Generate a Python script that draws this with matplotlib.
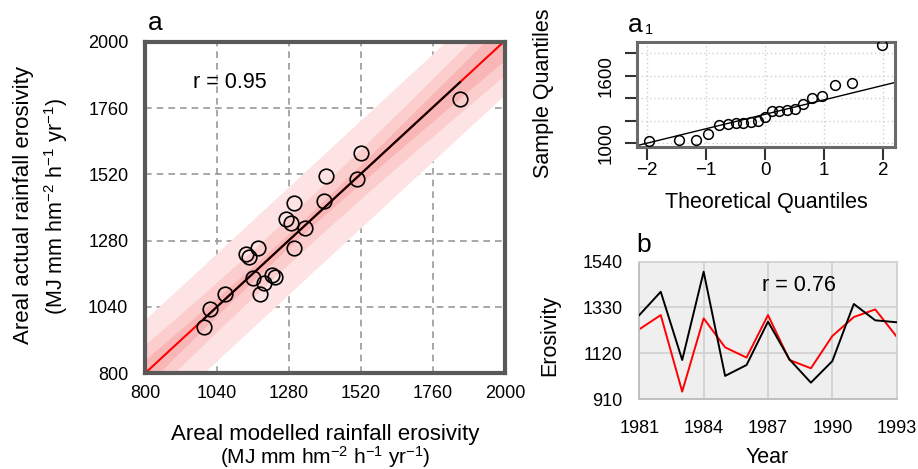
import numpy as np
import matplotlib
matplotlib.use('Agg')
import matplotlib.pyplot as plt

plt.rcParams['font.family'] = ['Liberation Sans', 'DejaVu Sans']
plt.rcParams['mathtext.default'] = 'regular'

# ---------------- data ----------------
# panel a: areal modelled (x) vs actual (y) erosivity
modelled = [1850, 1519, 1404, 1507, 1398, 1296, 1270, 1285, 1333, 1296, 1176,
            1138, 1145, 1159, 1223, 1234, 1196, 1182, 1067, 1015, 995]
actual = [1795, 1599, 1514, 1505, 1424, 1418, 1357, 1343, 1324, 1253, 1253,
          1230, 1222, 1145, 1157, 1149, 1127, 1085, 1085, 1033, 968]
r_a = 0.95
fit_slope = 1.005
fit_intercept = -5.0
pred_halfwidth = 195          # prediction band half width
mid_halfwidth = (85, 125)     # (centre, ends)
conf_halfwidth = (25, 70)     # (centre, ends)
a_ticks = [800, 1040, 1280, 1520, 1760, 2000]

# panel a1: normal QQ plot
theoretical_q = [-1.98, -1.47, -1.18, -0.97, -0.79, -0.64, -0.50, -0.37, -0.24, -0.12, 0.0,
                 0.12, 0.24, 0.37, 0.50, 0.64, 0.79, 0.97, 1.18, 1.47, 1.98]
sample_q = [1023, 1029, 1032, 1083, 1165, 1172, 1178, 1185, 1190, 1200, 1235,
            1285, 1290, 1298, 1302, 1345, 1400, 1418, 1518, 1533, 1874]
qq_xticks = [-2, -1, 0, 1, 2]
qq_yticks = [1000, 1200, 1400, 1600, 1800]
qq_ylabels = ['1000', '', '', '1600', '']

# panel b: annual erosivity time series
years = list(range(1981, 1994))
actual_series = [1295, 1402, 1089, 1494, 1016, 1066, 1265, 1092, 985, 1084, 1346, 1271, 1262]
modelled_series = [1230, 1295, 944, 1280, 1147, 1100, 1295, 1089, 1051, 1199, 1286, 1321, 1196]
r_b = 0.76
b_yticks = [910, 1120, 1330, 1540]
b_xticks = [1981, 1984, 1987, 1990, 1993]

W, H = 918, 469
fig = plt.figure(figsize=(W / 100, H / 100), dpi=100)


def fx(x):
    return x / W


def fy(y):
    return 1 - y / H


# ---------------- panel a ----------------
ax = fig.add_axes([fx(145), fy(373), fx(360), 331 / H])
ax.set_xlim(800, 2000)
ax.set_ylim(800, 2000)
xx = np.linspace(800, 2000, 300)
line = fit_intercept + fit_slope * xx
xc = np.mean(modelled)
t = (xx - xc) / (2000 - xc)


def hw(c, e):
    return np.sqrt(c ** 2 + (e ** 2 - c ** 2) * t ** 2)


ax.fill_between(xx, line - pred_halfwidth, line + pred_halfwidth, color='#fde3e3', lw=0, zorder=1)
mh = hw(*mid_halfwidth)
ax.fill_between(xx, line - mh, line + mh, color='#fccdcd', lw=0, zorder=1.1)
ch = hw(*conf_halfwidth)
ax.fill_between(xx, line - ch, line + ch, color='#f9b6b6', lw=0, zorder=1.2)
ax.plot(xx, line, color='#ff0000', lw=1.5, zorder=2)
xb = np.linspace(min(modelled), max(modelled), 50)
ax.plot(xb, fit_intercept + fit_slope * xb, color='black', lw=1.5, zorder=3)
ax.plot(modelled, actual, 'o', mfc='none', mec='black', ms=10.5, mew=1.2, zorder=4)

ax.set_xticks(a_ticks)
ax.set_yticks(a_ticks)
ax.grid(True, color='#9a9a9a', ls=(0, (4, 3)), lw=1.2, zorder=0)
ax.set_axisbelow(True)
ax.tick_params(length=0, labelsize=13, pad=9)
ax.tick_params(axis='y', pad=12)
for s in ax.spines.values():
    s.set_linewidth(3)
    s.set_color('#595959')
    s.set_zorder(5)

fig.text(fx(193), fy(88), f'r = {r_a}', fontsize=15.5, va='baseline', ha='left')
fig.text(fx(148), fy(30), 'a', fontsize=19, va='baseline', ha='left')
fig.text(fx(325), fy(440), 'Areal modelled rainfall erosivity', fontsize=16, ha='center', va='baseline')
fig.text(fx(325), fy(464), '(MJ mm hm$^{-2}$ h$^{-1}$ yr$^{-1}$)', fontsize=15, ha='center', va='baseline')
fig.text(fx(24), fy(205), 'Areal actual rainfall erosivity', fontsize=16, ha='center', va='center',
         rotation=90)
fig.text(fx(56), fy(207), '(MJ mm hm$^{-2}$ h$^{-1}$ yr$^{-1}$)', fontsize=15.5, ha='center', va='center',
         rotation=90)

# ---------------- panel a1 ----------------
aq = fig.add_axes([fx(637.3), fy(146.7), fx(257.7), 105 / H])
aq.plot(theoretical_q, sample_q, 'o', mfc='none', mec='black', ms=7, mew=1.1, zorder=3)
q1, q3 = np.percentile(sample_q, [25, 75])
z1, z3 = -0.6745, 0.6745
qs = (q3 - q1) / (z3 - z1)
qi = q1 - qs * z1
qx = np.array([-2.5, 2.5])
aq.plot(qx, qi + qs * qx, color='black', lw=1.0, zorder=2)
aq.set_xlim(-2.17, 2.2)
aq.set_ylim(970, 1903)
aq.set_xticks(qq_xticks)
aq.set_yticks(qq_yticks)
aq.set_yticklabels(qq_ylabels, rotation=90, va='center')
aq.grid(True, color='#cfcfcf', ls=(0, (1, 2)), lw=1.0, zorder=0)
aq.tick_params(length=9, width=1.5, color='#333333', labelsize=13.5)
aq.tick_params(axis='x', pad=2)
aq.tick_params(axis='y', pad=7)
for s in aq.spines.values():
    s.set_linewidth(2.2)
    s.set_color('#6a6a6a')
fig.text(fx(628), fy(31.7), 'a', fontsize=19, va='baseline', ha='left')
fig.text(fx(645), fy(34), '1', fontsize=10.5, va='baseline', ha='left')
fig.text(fx(766.7), fy(208), 'Theoretical Quantiles', fontsize=15.5, ha='center', va='baseline')
fig.text(fx(543), fy(93.5), 'Sample Quantiles', fontsize=15.5, ha='center', va='center', rotation=90)

# ---------------- panel b ----------------
bx = fig.add_axes([fx(639.3), fy(399), fx(257.4), 137.3 / H])
bx.set_facecolor('#efefef')
bx.plot(years, actual_series, color='black', lw=1.4, zorder=3)
bx.plot(years, modelled_series, color='#ff0000', lw=1.4, zorder=2)
bx.set_xlim(1981, 1993)
bx.set_ylim(910, 1540)
bx.set_xticks(b_xticks)
bx.set_yticks(b_yticks)
bx.grid(True, color='#d2d2d2', lw=1.3, zorder=0)
bx.set_axisbelow(True)
bx.tick_params(length=0, labelsize=13, pad=12)
bx.tick_params(axis='x', pad=15)
for s in bx.spines.values():
    s.set_linewidth(1.3)
    s.set_color('#d2d2d2')
bx.spines['left'].set_color('#bdbdbd')
bx.spines['bottom'].set_color('#bdbdbd')
fig.text(fx(761.7), fy(291), f'r = {r_b}', fontsize=15.5, ha='left', va='baseline')
fig.text(fx(636), fy(252), 'b', fontsize=19, va='baseline', ha='left')
fig.text(fx(550), fy(335), 'Erosivity', fontsize=15.5, ha='center', va='center', rotation=90)
fig.text(fx(766.7), fy(463), 'Year', fontsize=15.5, ha='center', va='baseline')

fig.savefig('out.png', dpi=100)
